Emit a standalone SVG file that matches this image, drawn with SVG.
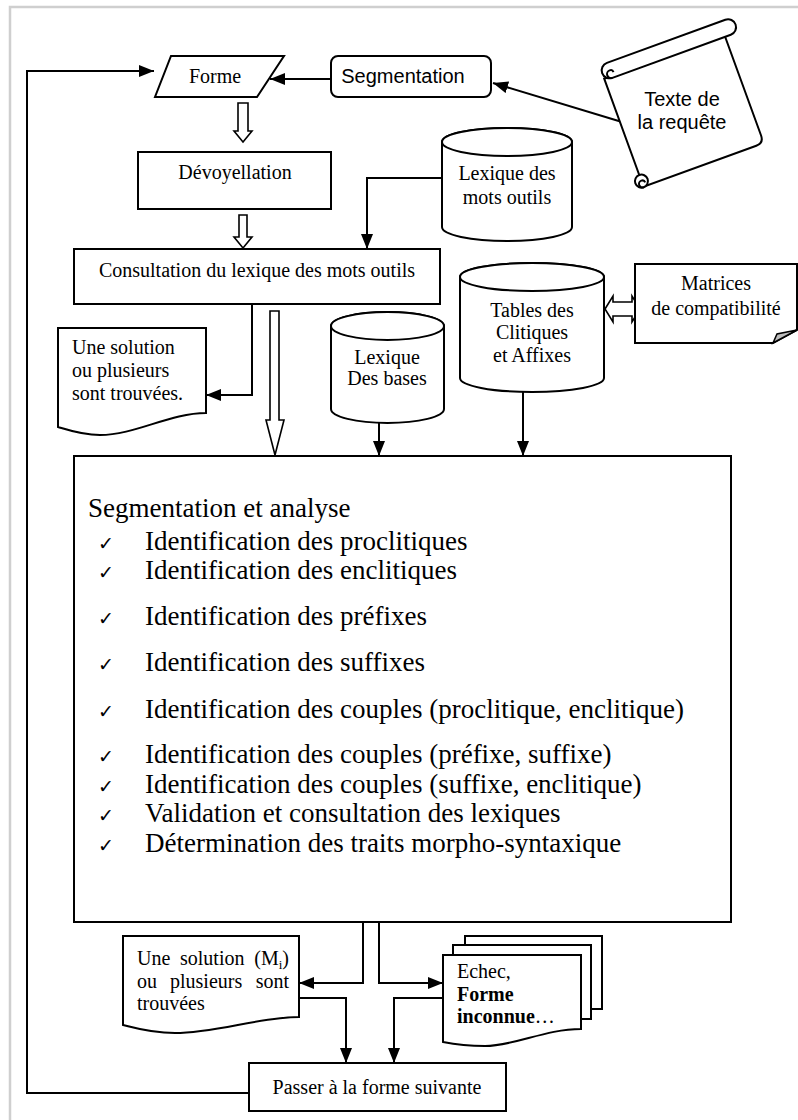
<svg xmlns="http://www.w3.org/2000/svg" width="798" height="1120" viewBox="0 0 798 1120">
<style>
.s{fill:#fff;stroke:#000;stroke-width:2}
.c{fill:none;stroke:#000;stroke-width:2}
.h{fill:#fff;stroke:#000;stroke-width:1.6}
text{font-family:"Liberation Serif","Times New Roman",serif;font-size:20px;fill:#000}
.m{text-anchor:middle}
.e{text-anchor:end}
.a{font-family:"Liberation Sans",Arial,sans-serif}
.b{font-size:27px}
.ck{font-family:"DejaVu Sans",sans-serif;font-size:19px}
</style>
<defs>
<marker id="ah" markerUnits="userSpaceOnUse" viewBox="0 0 15 12" markerWidth="15" markerHeight="12" refX="15" refY="6" orient="auto">
<path d="M0,0 L15,6 L0,12 Z" fill="#000"/>
</marker>
</defs>
<rect x="10" y="7" width="800" height="1130" fill="#fff" stroke="#cfcfcf" stroke-width="2.5"/>

<g id="connectors">
<line class="c" x1="622" y1="122" x2="493" y2="83" marker-end="url(#ah)"/>
<line class="c" x1="331" y1="79" x2="270" y2="79" marker-end="url(#ah)"/>
<polyline class="c" points="249,1093 27,1093 27,71 154,71" marker-end="url(#ah)"/>
<polyline class="c" points="442,178 367,178 367,249" marker-end="url(#ah)"/>
<polyline class="c" points="252,304 252,395 206,395" marker-end="url(#ah)"/>
<line class="c" x1="379" y1="423" x2="379" y2="456" marker-end="url(#ah)"/>
<line class="c" x1="523" y1="392" x2="523" y2="456" marker-end="url(#ah)"/>
<polyline class="c" points="363,922 363,983 299,983" marker-end="url(#ah)"/>
<polyline class="c" points="379,922 379,983 443,983" marker-end="url(#ah)"/>
<polyline class="c" points="299,998 346,998 346,1063" marker-end="url(#ah)"/>
<polyline class="c" points="443,998 394,998 394,1063" marker-end="url(#ah)"/>
<polygon class="h" points="238,103 248,103 248,131 252,131 243,142 234,131 238,131"/>
<polygon class="h" points="239,215 247,215 247,237 252,237 243,248 234,237 239,237"/>
<polygon class="h" points="270,311 279,311 279,420 284,420 275,455 266,420 270,420"/>
<polygon class="h" points="605,309 613,296 613,302 632,302 632,296 640,309 632,322 632,316 613,316 613,322"/>
</g>

<g id="forme">
<polygon class="s" points="171,56 284,56 257,97 155,97"/>
<text class="m" x="215" y="83">Forme</text>
</g>

<g id="segmentation">
<rect class="s" x="331" y="56" width="160" height="41" rx="7"/>
<text class="a m" x="403" y="83" font-size="18.5">Segmentation</text>
</g>

<g id="scroll">
<g transform="translate(684,105) rotate(-20)">
<path class="s" d="M-66,-52 V63 H54 Q62,63 62,55 V-52 Z"/>
<path class="s" d="M-58,-66 H68 A8,8 0 0 1 68,-50 H-58 A8,8 0 0 1 -58,-66 Z"/>
<path class="c" d="M-58,-50 A4,4 0 0 1 -58,-58 A3,3 0 0 1 -55,-55"/>
<circle class="s" cx="-66" cy="57" r="6.5"/>
<path class="c" d="M-66,63.5 A3.5,3.5 0 0 1 -66,56.5 A3,3 0 0 1 -63,59.5"/>
</g>
<text class="a m" x="682" y="106" font-size="21">Texte de</text>
<text class="a m" x="682" y="129" font-size="21">la requête</text>
</g>

<g id="devoyellation">
<rect class="s" x="138" y="152" width="193" height="57"/>
<text class="m" x="235" y="179">Dévoyellation</text>
</g>

<g id="lexique-mots-outils">
<path class="s" d="M442,142 V227 A65,14 0 0 0 572,227 V142 A65,14 0 0 0 442,142 Z"/>
<ellipse class="s" cx="507" cy="142" rx="65" ry="14"/>
<text class="m" x="507" y="180">Lexique des</text>
<text class="m" x="507" y="204">mots outils</text>
</g>

<g id="consultation">
<rect class="s" x="74" y="249" width="366" height="55"/>
<text class="m" x="257" y="277">Consultation du lexique des mots outils</text>
</g>

<g id="solution-1">
<path class="s" d="M58,328 H206 V413 C170,413 135,435 100,435 C82,435 68,430 58,427 Z"/>
<text x="72" y="354">Une solution</text>
<text x="72" y="377">ou plusieurs</text>
<text x="72" y="400">sont trouvées.</text>
</g>

<g id="lexique-bases">
<path class="s" d="M331,326 V409 A56.5,14 0 0 0 444,409 V326 A56.5,14 0 0 0 331,326 Z"/>
<ellipse class="s" cx="387.5" cy="326" rx="56.5" ry="14"/>
<text class="m" x="387" y="364">Lexique</text>
<text class="m" x="387" y="385">Des bases</text>
</g>

<g id="tables">
<path class="s" d="M460,277 V378 A72,14 0 0 0 604,378 V277 A72,14 0 0 0 460,277 Z"/>
<ellipse class="s" cx="532" cy="277" rx="72" ry="14"/>
<text class="m" x="532" y="317">Tables des</text>
<text class="m" x="532" y="339">Clitiques</text>
<text class="m" x="532" y="362">et Affixes</text>
</g>

<g id="matrices">
<path class="s" d="M635,264 H797 V330 L773,343 H635 Z"/>
<path d="M773,343 L777,334 L797,330 Z" fill="#bdbdbd" stroke="#000" stroke-width="1.5"/>
<text class="m" x="716" y="290">Matrices</text>
<text class="m" x="716" y="315">de compatibilité</text>
</g>

<g id="segmentation-analyse">
<rect class="s" x="74" y="456" width="657" height="466"/>
<text class="b" x="88" y="517">Segmentation et analyse</text>
<text class="ck" x="98" y="550">✓</text><text class="b" x="145" y="550">Identification des proclitiques</text>
<text class="ck" x="98" y="579">✓</text><text class="b" x="145" y="579">Identification des enclitiques</text>
<text class="ck" x="98" y="625">✓</text><text class="b" x="145" y="625">Identification des préfixes</text>
<text class="ck" x="98" y="671">✓</text><text class="b" x="145" y="671">Identification des suffixes</text>
<text class="ck" x="98" y="718">✓</text><text class="b" x="145" y="718">Identification des couples (proclitique, enclitique)</text>
<text class="ck" x="98" y="763">✓</text><text class="b" x="145" y="763">Identification des couples (préfixe, suffixe)</text>
<text class="ck" x="98" y="793">✓</text><text class="b" x="145" y="793">Identification des couples (suffixe, enclitique)</text>
<text class="ck" x="98" y="822">✓</text><text class="b" x="145" y="822">Validation et consultation des lexiques</text>
<text class="ck" x="98" y="852">✓</text><text class="b" x="145" y="852">Détermination des traits morpho-syntaxique</text>
</g>

<g id="solution-2">
<path class="s" d="M123,936 H299 V1017 C260,1017 215,1033 175,1033 C150,1033 135,1028 123,1025 Z"/>
<text x="137" y="965">Une</text>
<text x="180" y="965">solution</text>
<text class="e" x="289" y="965">(M<tspan font-size="13" dy="4">i</tspan><tspan dy="-4">)</tspan></text>
<text x="137" y="988">ou</text>
<text x="170" y="988">plusieurs</text>
<text class="e" x="289" y="988">sont</text>
<text x="137" y="1010">trouvées</text>
</g>

<g id="echec">
<rect class="s" x="465" y="936" width="137" height="73"/>
<rect class="s" x="453" y="945" width="138" height="74"/>
<path class="s" d="M443,955 H581 V1029 C545,1029 515,1046 485,1046 C465,1046 453,1044 443,1042 Z"/>
<text x="457" y="978">Echec,</text>
<text x="457" y="1001" font-weight="bold">Forme</text>
<text x="457" y="1023"><tspan font-weight="bold">inconnue</tspan>…</text>
</g>

<g id="passer">
<rect class="s" x="249" y="1063" width="257" height="48"/>
<text class="m" x="377" y="1094">Passer à la forme suivante</text>
</g>
</svg>
